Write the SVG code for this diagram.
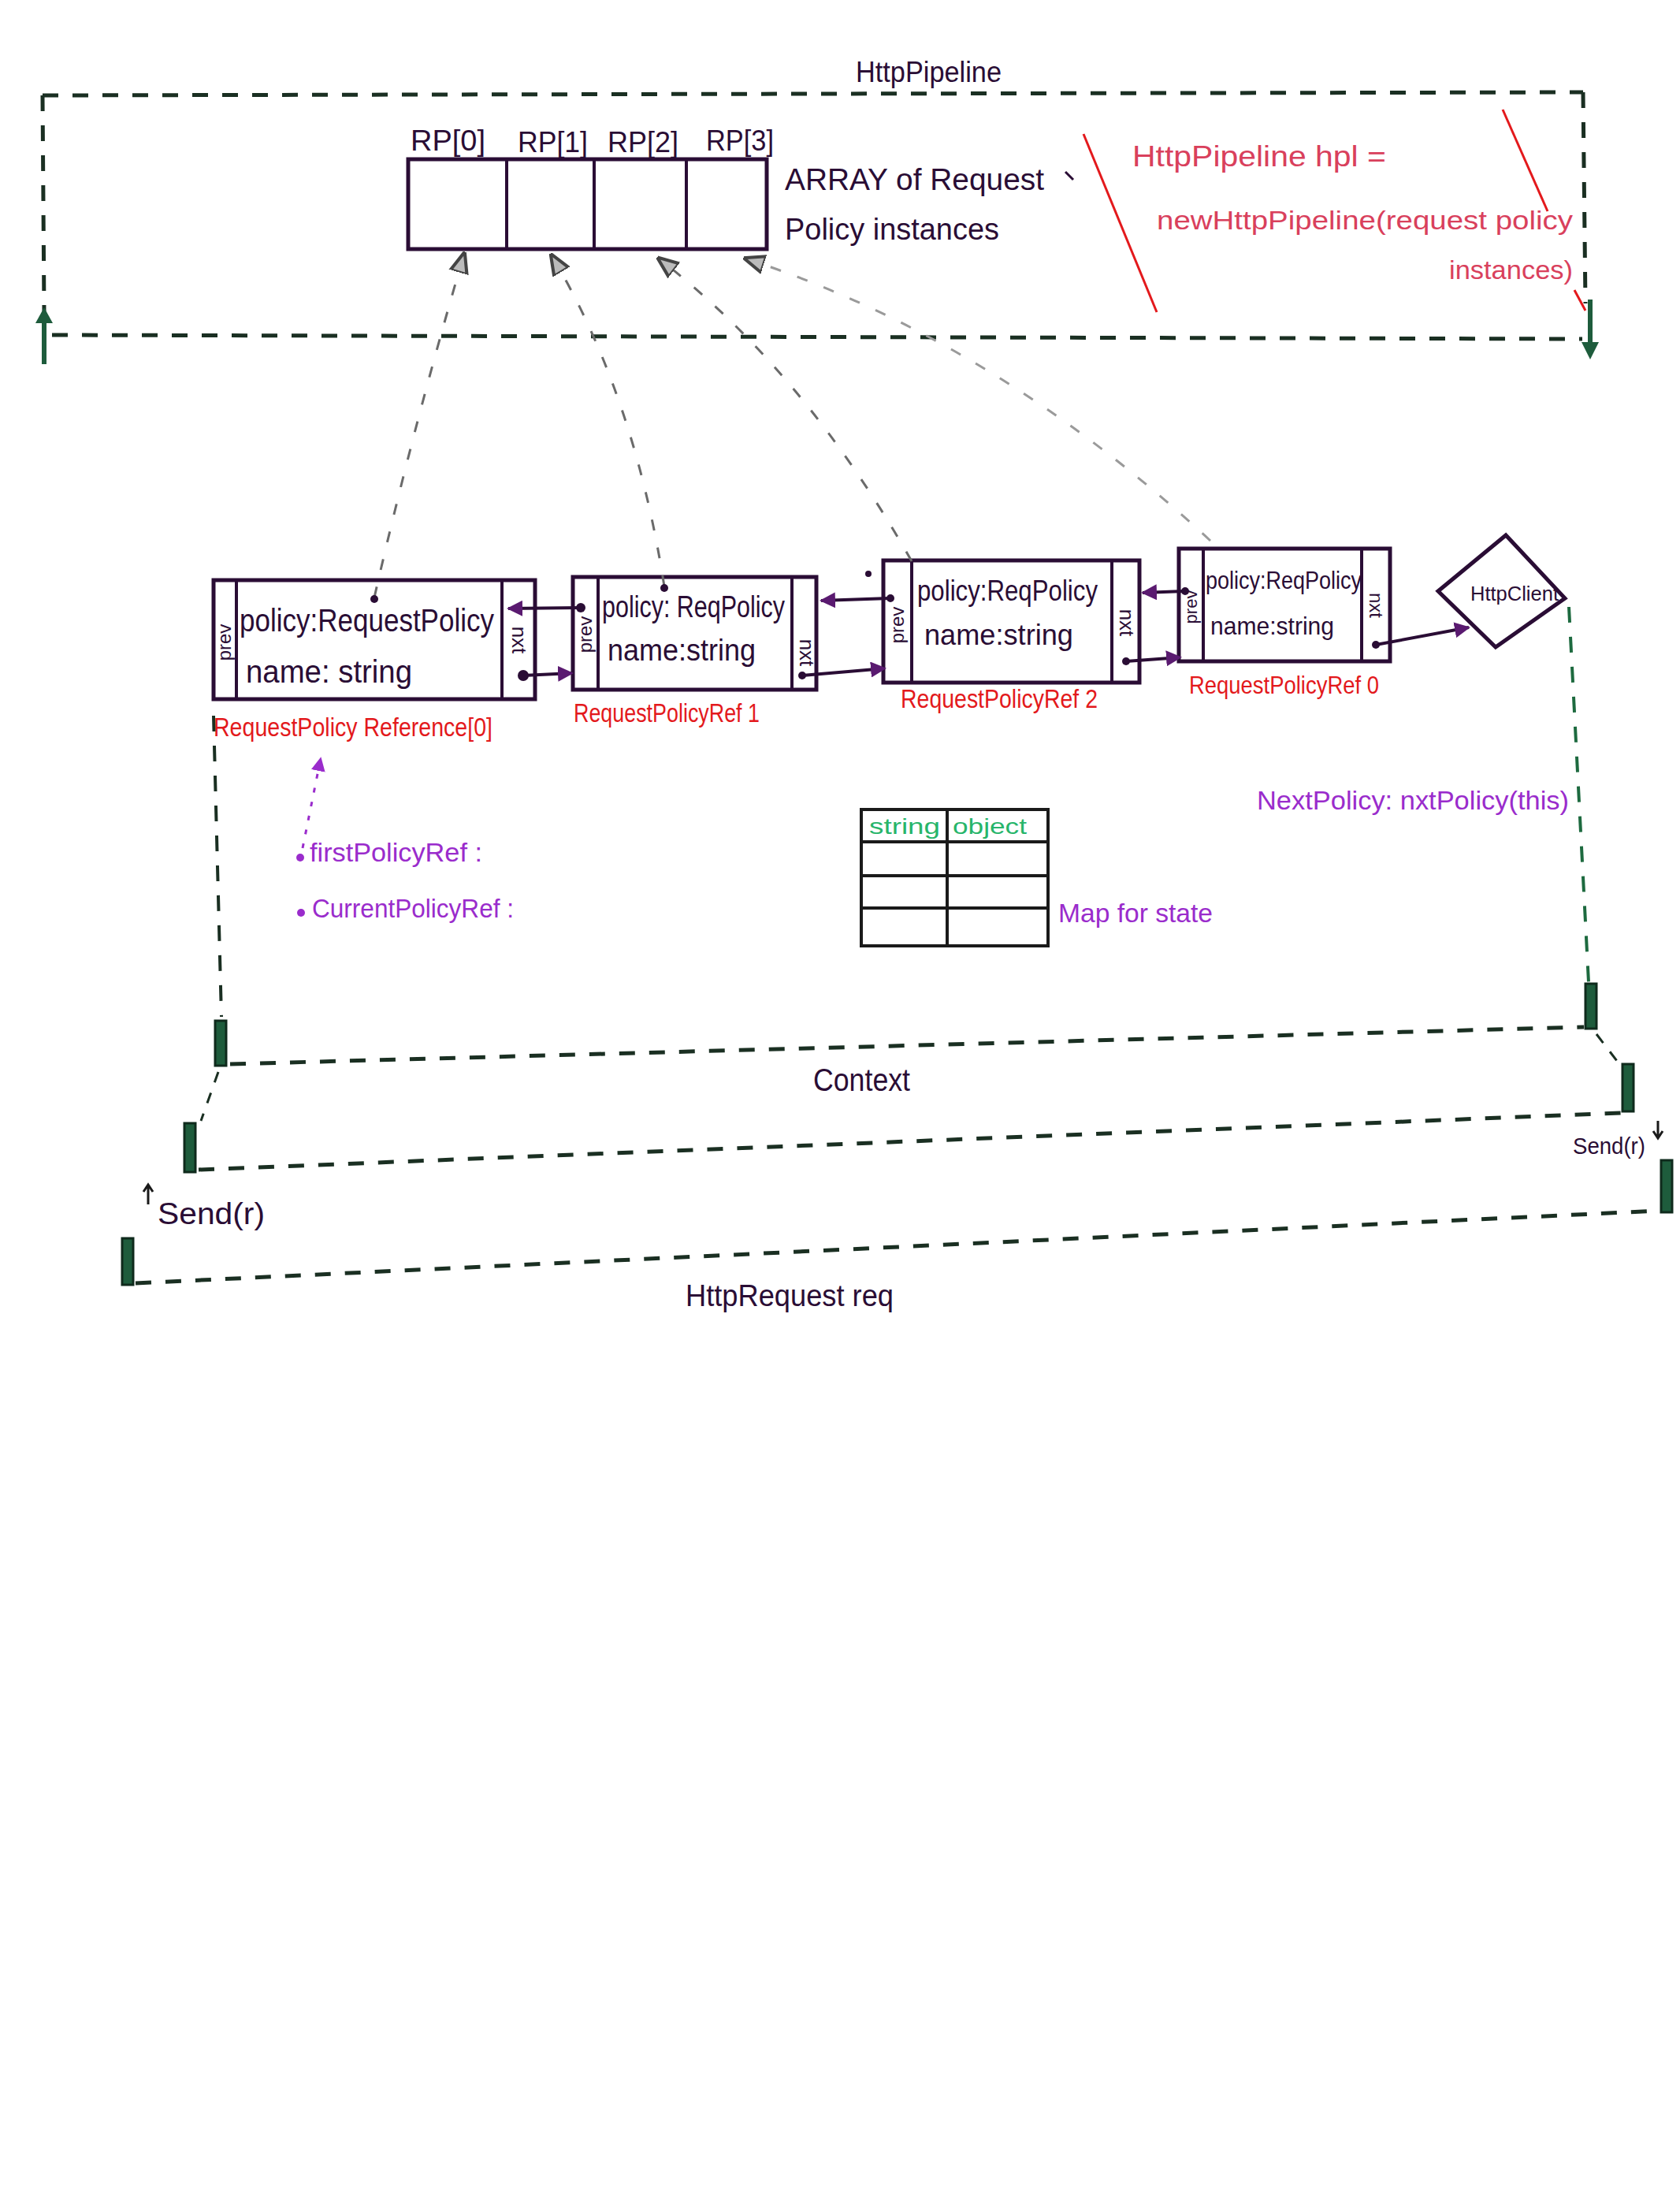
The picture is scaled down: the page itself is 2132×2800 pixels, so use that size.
<svg xmlns="http://www.w3.org/2000/svg" width="2132" height="2800" viewBox="0 0 2132 2800">
<style>
text{font-family:"Liberation Sans",Arial,sans-serif}
.ink{fill:#2a0d35}
.red{fill:#e3191c}
.pink{fill:#d9405c}
.purple{fill:#9a2ccc}
.green{fill:#27b56a}
.box{fill:#fff;stroke:#2a0d35;stroke-width:5}
.col{stroke:#2a0d35;stroke-width:4;fill:none}
.dash{fill:none;stroke:#1a2f22;stroke-width:5;stroke-dasharray:20 18}
.gdash{fill:none;stroke:#1d6a3f;stroke-width:4;stroke-dasharray:20 18}
.ptr{fill:none;stroke:#6a6a6a;stroke-width:3;stroke-dasharray:14 22}
.link{fill:none;stroke:#2a0d35;stroke-width:4}
.bar{fill:#1e5c3c;stroke:#0f2a1c;stroke-width:3}
.redline{stroke:#e3191c;stroke-width:3;fill:none}
.tbl{stroke:#1a1a1a;stroke-width:4;fill:none}
</style>
<defs>
<marker id="ah" viewBox="0 0 10 10" refX="9" refY="5" markerWidth="5" markerHeight="5" orient="auto-start-reverse" markerUnits="strokeWidth">
<path d="M0,0 L10,5 L0,10 z" fill="#5a1a70"/>
</marker>
<marker id="gah" viewBox="0 0 10 10" refX="9" refY="5" markerWidth="9" markerHeight="9" orient="auto" markerUnits="strokeWidth">
<path d="M0,1 L10,5 L0,9 z" fill="#bbb" stroke="#444" stroke-width="1.5"/>
</marker>
<marker id="pah" viewBox="0 0 10 10" refX="9" refY="5" markerWidth="6" markerHeight="6" orient="auto" markerUnits="strokeWidth">
<path d="M0,0 L10,5 L0,10 z" fill="#9a2ccc"/>
</marker>
</defs>
<rect width="2132" height="2800" fill="#fff"/>

<g id="pipeline">
<path class="dash" d="M54,121 L2009,117"/>
<path class="dash" d="M54,121 L56,395"/>
<path class="dash" d="M66,425 L2008,430"/>
<path class="dash" d="M2009,117 L2012,385"/>
<path d="M56,462 L56,405" stroke="#1e5c3c" stroke-width="6"/>
<path d="M45,410 L56,390 L67,410 z" fill="#1e5c3c"/>
<path d="M2018,380 L2018,440" stroke="#1e5c3c" stroke-width="6"/>
<path d="M2007,434 L2018,456 L2029,434 z" fill="#1e5c3c"/>
<text x="1086" y="104" font-size="36" class="ink" textLength="185" lengthAdjust="spacingAndGlyphs">HttpPipeline</text>
</g>

<g id="array">
<rect x="518" y="202" width="455" height="114" class="box"/>
<path class="col" d="M643,204 V314 M754,204 V314 M871,204 V314"/>
<text x="521" y="191" font-size="36" class="ink" textLength="95" lengthAdjust="spacingAndGlyphs">RP[0]</text>
<text x="657" y="193" font-size="36" class="ink" textLength="89" lengthAdjust="spacingAndGlyphs">RP[1]</text>
<text x="771" y="193" font-size="36" class="ink" textLength="90" lengthAdjust="spacingAndGlyphs">RP[2]</text>
<text x="896" y="191" font-size="36" class="ink" textLength="86" lengthAdjust="spacingAndGlyphs">RP[3]</text>
<text x="996" y="241" font-size="38" class="ink" textLength="329" lengthAdjust="spacingAndGlyphs">ARRAY of Request</text>
<text x="996" y="304" font-size="38" class="ink" textLength="272" lengthAdjust="spacingAndGlyphs">Policy instances</text>
</g>

<g id="pipeline-note">
<path class="redline" d="M1375,170 L1468,396"/>
<path class="redline" d="M1907,139 L1964,268"/>
<path class="redline" d="M1998,368 L2012,394"/>
<path d="M1352,218 L1362,228" stroke="#2a0d35" stroke-width="3"/>
<text x="1437" y="211" font-size="36" class="pink" textLength="322" lengthAdjust="spacingAndGlyphs">HttpPipeline hpl =</text>
<text x="1468" y="291" font-size="34" class="pink" textLength="528" lengthAdjust="spacingAndGlyphs">newHttpPipeline(request policy</text>
<text x="1839" y="354" font-size="34" class="pink" textLength="157" lengthAdjust="spacingAndGlyphs">instances)</text>
</g>

<g id="node0">
<rect x="271" y="736" width="408" height="151" class="box"/>
<path class="col" d="M300,738 V885 M637,738 V885"/>
<text transform="translate(293,815) rotate(-90)" font-size="24" class="ink" text-anchor="middle">prev</text>
<text transform="translate(650,812) rotate(90)" font-size="26" class="ink" text-anchor="middle">nxt</text>
<text x="304" y="801" font-size="40" class="ink" textLength="323" lengthAdjust="spacingAndGlyphs">policy:RequestPolicy</text>
<text x="312" y="866" font-size="40" class="ink" textLength="211" lengthAdjust="spacingAndGlyphs">name: string</text>
<text x="271" y="934" font-size="34" class="red" textLength="354" lengthAdjust="spacingAndGlyphs">RequestPolicy Reference[0]</text>
</g>

<g id="node1">
<rect x="727" y="732" width="309" height="143" class="box"/>
<path class="col" d="M759,734 V873 M1005,734 V873"/>
<text transform="translate(751,805) rotate(-90)" font-size="24" class="ink" text-anchor="middle">prev</text>
<text transform="translate(1015,828) rotate(90)" font-size="26" class="ink" text-anchor="middle">nxt</text>
<text x="764" y="783" font-size="38" class="ink" textLength="232" lengthAdjust="spacingAndGlyphs">policy: ReqPolicy</text>
<text x="771" y="838" font-size="38" class="ink" textLength="188" lengthAdjust="spacingAndGlyphs">name:string</text>
<text x="728" y="916" font-size="34" class="red" textLength="236" lengthAdjust="spacingAndGlyphs">RequestPolicyRef 1</text>
</g>

<g id="node2">
<rect x="1121" y="711" width="325" height="155" class="box"/>
<path class="col" d="M1157,713 V864 M1411,713 V864"/>
<text transform="translate(1147,793) rotate(-90)" font-size="24" class="ink" text-anchor="middle">prev</text>
<text transform="translate(1421,790) rotate(90)" font-size="26" class="ink" text-anchor="middle">nxt</text>
<text x="1164" y="762" font-size="36" class="ink" textLength="229" lengthAdjust="spacingAndGlyphs">policy:ReqPolicy</text>
<text x="1173" y="818" font-size="36" class="ink" textLength="189" lengthAdjust="spacingAndGlyphs">name:string</text>
<text x="1143" y="898" font-size="34" class="red" textLength="250" lengthAdjust="spacingAndGlyphs">RequestPolicyRef 2</text>
</g>

<g id="node3">
<rect x="1496" y="696" width="268" height="143" class="box"/>
<path class="col" d="M1527,698 V837 M1728,698 V837"/>
<text transform="translate(1519,770) rotate(-90)" font-size="22" class="ink" text-anchor="middle">prev</text>
<text transform="translate(1738,768) rotate(90)" font-size="24" class="ink" text-anchor="middle">nxt</text>
<text x="1530" y="747" font-size="32" class="ink" textLength="198" lengthAdjust="spacingAndGlyphs">policy:ReqPolicy</text>
<text x="1536" y="805" font-size="32" class="ink" textLength="157" lengthAdjust="spacingAndGlyphs">name:string</text>
<text x="1509" y="880" font-size="32" class="red" textLength="241" lengthAdjust="spacingAndGlyphs">RequestPolicyRef 0</text>
</g>

<g id="httpclient">
<path d="M1825,750 L1911,679 L1986,759 L1898,821 Z" class="box"/>
<text x="1866" y="762" font-size="26" class="ink" textLength="112" lengthAdjust="spacingAndGlyphs">HttpClient</text>
</g>

<g id="state-map">
<rect x="1093" y="1027" width="237" height="173" class="tbl"/>
<path class="tbl" d="M1093,1068 H1330 M1093,1111 H1330 M1093,1152 H1330 M1202,1027 V1200"/>
<text x="1103" y="1058" font-size="28" class="green" textLength="90" lengthAdjust="spacingAndGlyphs">string</text>
<text x="1209" y="1058" font-size="28" class="green" textLength="94" lengthAdjust="spacingAndGlyphs">object</text>
<text x="1343" y="1170" font-size="34" class="purple" textLength="196" lengthAdjust="spacingAndGlyphs">Map for state</text>
</g>

<g id="policy-refs">
<circle cx="381" cy="1088" r="5" fill="#9a2ccc"/>
<text x="393" y="1093" font-size="34" class="purple" textLength="219" lengthAdjust="spacingAndGlyphs">firstPolicyRef :</text>
<circle cx="382" cy="1158" r="5" fill="#9a2ccc"/>
<text x="396" y="1164" font-size="34" class="purple" textLength="256" lengthAdjust="spacingAndGlyphs">CurrentPolicyRef :</text>
<text x="1595" y="1027" font-size="34" class="purple" textLength="396" lengthAdjust="spacingAndGlyphs">NextPolicy: nxtPolicy(this)</text>
</g>

<g id="context">
<rect x="273" y="1295" width="14" height="57" class="bar"/>
<rect x="2012" y="1248" width="14" height="57" class="bar"/>
<path class="dash" d="M292,1350 L2010,1303"/>
<text x="1032" y="1384" font-size="40" class="ink" textLength="123" lengthAdjust="spacingAndGlyphs">Context</text>
</g>

<g id="send">
<rect x="234" y="1425" width="14" height="62" class="bar"/>
<rect x="2059" y="1350" width="14" height="60" class="bar"/>
<path class="dash" d="M252,1484 L2057,1412"/>
<path d="M188,1528 L188,1505 M182,1512 L188,1503 L194,1512" stroke="#1a1a1a" stroke-width="3" fill="none"/>
<text x="200" y="1553" font-size="38" class="ink" textLength="136" lengthAdjust="spacingAndGlyphs">Send(r)</text>
<text x="1996" y="1464" font-size="30" class="ink" textLength="92" lengthAdjust="spacingAndGlyphs">Send(r)</text>
<path d="M2104,1422 L2104,1442 M2098,1435 L2104,1444 L2110,1435" stroke="#1a1a1a" stroke-width="3" fill="none"/>
</g>

<g id="httprequest">
<rect x="155" y="1571" width="14" height="59" class="bar"/>
<rect x="2108" y="1472" width="14" height="66" class="bar"/>
<path class="dash" d="M172,1628 L2106,1536"/>
<text x="870" y="1657" font-size="38" class="ink" textLength="264" lengthAdjust="spacingAndGlyphs">HttpRequest req</text>
</g>

<g id="connectors">
<path class="ptr" d="M475,758 Q525,540 589,322" marker-end="url(#gah)"/>
<path class="ptr" d="M843,744 Q805,500 700,324" marker-end="url(#gah)"/>
<path class="ptr" d="M1157,712 Q1020,470 836,328" marker-end="url(#gah)"/>
<path class="ptr" d="M1536,686 Q1260,430 946,328" marker-end="url(#gah)" style="stroke:#9a9a9a"/>
<circle cx="475" cy="760" r="5" fill="#2a0d35"/>
<circle cx="843" cy="746" r="5" fill="#2a0d35"/>
<circle cx="1102" cy="728" r="4" fill="#2a0d35"/>

<path class="link" d="M736,771 L645,772" marker-end="url(#ah)"/>
<circle cx="737" cy="771" r="6" fill="#2a0d35"/>
<path class="link" d="M664,857 L726,854" marker-end="url(#ah)"/>
<circle cx="664" cy="857" r="7" fill="#2a0d35"/>
<path class="link" d="M1129,759 L1042,762" marker-end="url(#ah)"/>
<circle cx="1130" cy="759" r="5" fill="#2a0d35"/>
<path class="link" d="M1018,857 L1123,848" marker-end="url(#ah)"/>
<circle cx="1018" cy="857" r="5" fill="#2a0d35"/>
<path class="link" d="M1503,750 L1450,752" marker-end="url(#ah)"/>
<circle cx="1504" cy="750" r="5" fill="#2a0d35"/>
<path class="link" d="M1429,839 L1498,834" marker-end="url(#ah)"/>
<circle cx="1429" cy="839" r="5" fill="#2a0d35"/>
<path class="link" d="M1746,818 L1864,796" marker-end="url(#ah)"/>
<circle cx="1746" cy="818" r="5" fill="#2a0d35"/>

<path class="dash" d="M271,908 L281,1290" style="stroke-width:4"/>
<path class="dash" d="M277,1360 L255,1422" style="stroke-width:3;stroke-dasharray:14 14"/>
<path class="gdash" d="M1991,770 L2016,1246"/>
<path class="dash" d="M2026,1312 L2052,1346" style="stroke-width:3;stroke-dasharray:14 14"/>
<path d="M384,1076 L407,962" fill="none" stroke="#9a2ccc" stroke-width="3" stroke-dasharray="6 12" marker-end="url(#pah)"/>
</g>
</svg>
